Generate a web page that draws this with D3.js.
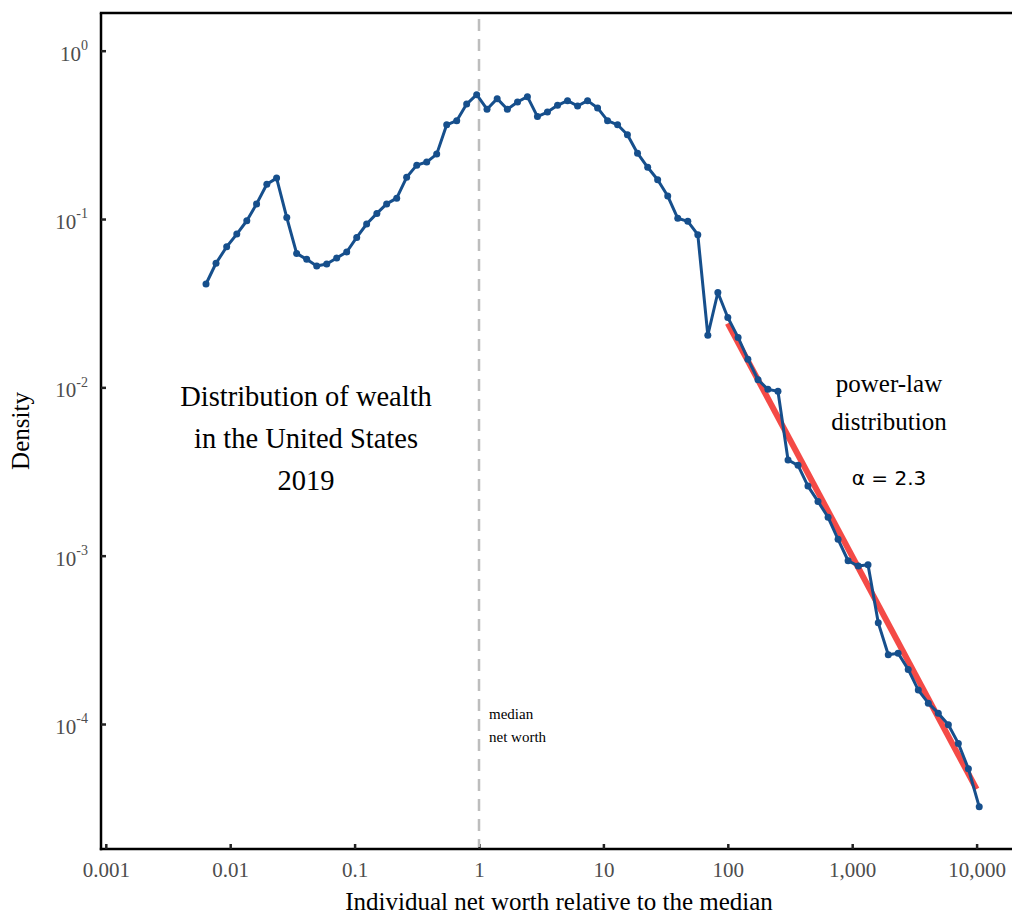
<!DOCTYPE html>
<html>
<head>
<meta charset="utf-8">
<title>Distribution of wealth</title>
<script src="https://d3js.org/d3.v7.min.js"></script>
<style>
body { margin: 0; background: #fff; }
svg text { font-family: "Liberation Serif", "Times New Roman", serif; }
.tick text { fill: #4d4d4d; font-size: 21px; }
.tick line { stroke: #222; stroke-width: 2.5px; }
</style>
</head>
<body>
<svg width="1012" height="918"></svg>
<script>
// net worth relative to the median (x) and density (y)
var netWorth = [0.00639, 0.00769, 0.00937, 0.0113, 0.0136, 0.0163, 0.0197, 0.0236, 0.0285, 0.0342,
  0.0412, 0.0496, 0.0597, 0.0718, 0.0864, 0.104, 0.125, 0.151, 0.181, 0.218,
  0.262, 0.316, 0.380, 0.457, 0.550, 0.662, 0.796, 0.958, 1.16, 1.40,
  1.69, 2.04, 2.45, 2.95, 3.55, 4.28, 5.15, 6.20, 7.46, 8.98,
  10.8, 13.0, 15.6, 18.8, 22.7, 27.3, 32.9, 39.6, 47.7, 57.4,
  69.1, 83.2, 100, 121, 145, 175, 210, 253, 305, 367,
  441, 531, 640, 770, 927, 1120, 1340, 1620, 1950, 2340,
  2820, 3400, 4090, 4920, 5930, 7130, 8590, 10500];
var density = [0.0411, 0.0546, 0.0684, 0.0814, 0.0977, 0.123, 0.161, 0.175, 0.102, 0.0625,
  0.0576, 0.0526, 0.0540, 0.0587, 0.0637, 0.0778, 0.0934, 0.108, 0.123, 0.133,
  0.177, 0.209, 0.218, 0.243, 0.363, 0.384, 0.482, 0.548, 0.449, 0.519,
  0.449, 0.496, 0.533, 0.406, 0.432, 0.474, 0.505, 0.469, 0.505, 0.457,
  0.384, 0.363, 0.317, 0.246, 0.203, 0.171, 0.137, 0.101, 0.0969, 0.0807,
  0.0204, 0.0366, 0.0260, 0.0198, 0.0147, 0.0111, 0.00973, 0.00947, 0.00370, 0.00344,
  0.00259, 0.00210, 0.00169, 0.00125, 0.000933, 0.000867, 0.000883, 0.000399, 0.000258, 0.000263,
  0.000211, 0.000159, 0.000133, 0.000116, 0.0000989, 0.0000767, 0.0000542, 0.0000322];

// power-law fit segment
var fitX = [100, 10000];
var fitY = [0.024, 0.000041];

var xTicks = [0.001, 0.01, 0.1, 1, 10, 100, 1000, 10000];
var xTickLabels = ["0.001", "0.01", "0.1", "1", "10", "100", "1,000", "10,000"];
var yTicks = [1, 0.1, 0.01, 0.001, 0.0001];
var yTickExps = ["0", "-1", "-2", "-3", "-4"];

var medianValue = 1;

var svg = d3.select("svg");
var axisLeftX = 101, axisBottomY = 849, frameTop = 13, frameRight = 1012;

var x = d3.scaleLog().domain([0.001, 10000]).range([105.8, 976.6]);
var y = d3.scaleLog().domain([1, 0.0001]).range([50.7, 724]);

// frame
svg.append("line").attr("x1", axisLeftX).attr("x2", axisLeftX)
  .attr("y1", frameTop).attr("y2", axisBottomY + 1.2)
  .attr("stroke", "#000").attr("stroke-width", 2.5);
svg.append("line").attr("x1", axisLeftX - 1.2).attr("x2", frameRight)
  .attr("y1", axisBottomY).attr("y2", axisBottomY)
  .attr("stroke", "#000").attr("stroke-width", 2.5);
svg.append("line").attr("x1", axisLeftX - 1.2).attr("x2", frameRight)
  .attr("y1", frameTop).attr("y2", frameTop)
  .attr("stroke", "#000").attr("stroke-width", 2.5);

// x axis
var xAxis = svg.append("g")
  .attr("transform", "translate(0," + axisBottomY + ")")
  .call(d3.axisBottom(x).tickValues(xTicks)
    .tickFormat(function(d, i) { return xTickLabels[i]; })
    .tickSize(-5).tickPadding(13));
xAxis.select(".domain").remove();
xAxis.selectAll(".tick text").attr("dy", "0.71em").attr("font-family", null);

// y axis with superscript labels
var yAxis = svg.append("g")
  .attr("transform", "translate(" + axisLeftX + ",0)")
  .call(d3.axisLeft(y).tickValues(yTicks).tickSize(-5).tickFormat(function() { return ""; }));
yAxis.select(".domain").remove();
yAxis.selectAll(".tick").each(function(d, i) {
  var t = d3.select(this).select("text").attr("x", -13).attr("dy", "0.45em");
  t.append("tspan").text("10");
  t.append("tspan").attr("font-size", "14px").attr("dy", "-0.75em").text(yTickExps[i]);
});

// median line
svg.append("line")
  .attr("x1", x(medianValue)).attr("x2", x(medianValue))
  .attr("y1", 19).attr("y2", axisBottomY - 2)
  .attr("stroke", "#bdbdbd").attr("stroke-width", 2.5)
  .attr("stroke-dasharray", "12,8");

// fitted power law
var line = d3.line().x(function(d) { return x(d[0]); }).y(function(d) { return y(d[1]); });
svg.append("path")
  .datum(d3.zip(fitX, fitY))
  .attr("d", line)
  .attr("fill", "none").attr("stroke", "#f44a46").attr("stroke-width", 6);

// density series
var pts = d3.zip(netWorth, density);
svg.append("path")
  .datum(pts)
  .attr("d", line)
  .attr("fill", "none").attr("stroke", "#164f8c").attr("stroke-width", 3)
  .attr("stroke-linejoin", "round");
svg.append("g").selectAll("circle")
  .data(pts)
  .enter().append("circle")
  .attr("cx", function(d) { return x(d[0]); })
  .attr("cy", function(d) { return y(d[1]); })
  .attr("r", 3.5)
  .attr("fill", "#164f8c");

// annotations
var leftNote = svg.append("text").attr("text-anchor", "middle").attr("font-size", "28.5px").attr("fill", "#000");
["Distribution of wealth", "in the United States", "2019"].forEach(function(s, i) {
  leftNote.append("tspan").attr("x", 306).attr("y", 406 + i * 42).text(s);
});

var medNote = svg.append("text").attr("font-size", "15px").attr("fill", "#000");
["median", "net worth"].forEach(function(s, i) {
  medNote.append("tspan").attr("x", 489).attr("y", 719 + i * 23).text(s);
});

var plNote = svg.append("text").attr("text-anchor", "middle").attr("font-size", "25px").attr("fill", "#000");
["power-law", "distribution"].forEach(function(s, i) {
  plNote.append("tspan").attr("x", 889).attr("y", 392 + i * 38).text(s);
});
svg.append("text")
  .attr("x", 889).attr("y", 485)
  .attr("text-anchor", "middle")
  .attr("font-size", "20px")
  .style("font-family", "'DejaVu Sans', sans-serif")
  .text("\u03b1 = 2.3");

// axis titles
svg.append("text")
  .attr("x", 559).attr("y", 910)
  .attr("text-anchor", "middle").attr("font-size", "25px")
  .text("Individual net worth relative to the median");
svg.append("text")
  .attr("transform", "translate(29,431) rotate(-90)")
  .attr("text-anchor", "middle").attr("font-size", "25px")
  .text("Density");
</script>
</body>
</html>
